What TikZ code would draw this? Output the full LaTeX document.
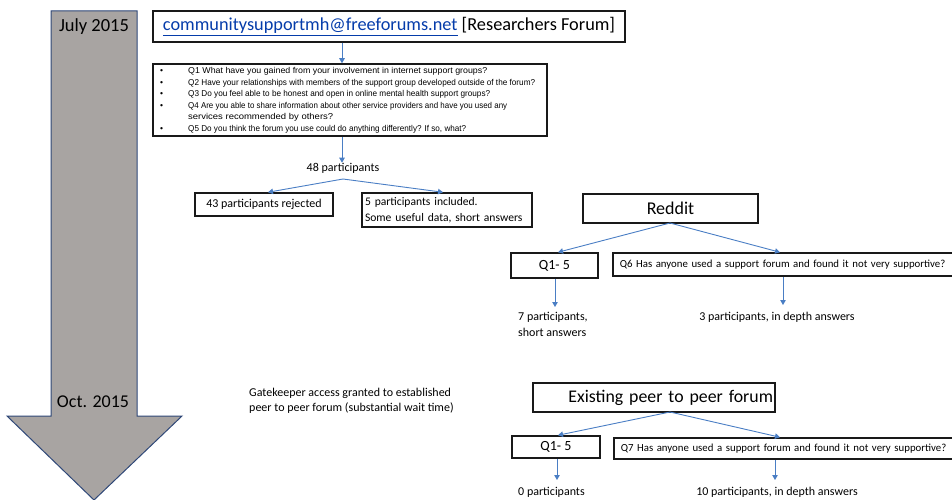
\documentclass[tikz,border=0pt]{standalone}
\usepackage{fontspec}
\usepackage{graphicx}
\setmainfont{Carlito}
\newfontfamily\arialf{Liberation Sans}
\usetikzlibrary{arrows.meta,calc}
\definecolor{arrfill}{RGB}{168,164,162}
\definecolor{arrline}{RGB}{47,72,120}
\definecolor{conncol}{RGB}{74,126,196}
\definecolor{linkcol}{RGB}{5,60,170}
\newcommand{\fsz}[2]{\fontsize{#1}{#2}\selectfont}
\newcommand{\qln}[2]{\makebox[28pt][l]{\textbullet}\resizebox{#1pt}{\height}{#2}}
\begin{document}
\begin{tikzpicture}[x=1pt,y=-1pt,
  box/.style={draw=black!90,line width=1.5pt,inner sep=0pt},
  conn/.style={draw=conncol,line width=0.9pt,-{Triangle[length=5pt,width=5.5pt]}},
  lbl/.style={inner sep=0pt,font=\fsz{12}{15.5}},
]
\useasboundingbox (0,0) rectangle (952,500);
\clip (0,0) rectangle (952,500);
% timeline arrow
\draw[fill=arrfill,draw=arrline,line width=1pt]
  (51,11) -- (137,11) -- (137,416) -- (182,416) -- (94,500) -- (7,416) -- (51,416) -- cycle;
\node[inner sep=0pt,font=\fsz{18.5}{22}] (jul) at (94,27) {July 2015};
\node[inner sep=0pt,font=\fsz{18}{22}] (oct) at (93,402) {Oct. 2015};
% researchers forum
\node[box,minimum width=472pt,minimum height=31pt,font=\fsz{18.3}{21}] (top) at (389,26.5)
  {\textcolor{linkcol}{\underline{communitysupportmh@freeforums.net}} [Researchers Forum]};
\node[box,minimum width=394pt,minimum height=72pt] (qbox) at (350,100) {};
\node[inner sep=0pt,anchor=north west,align=left,font=\arialf\fsz{8.5}{11.5}] (qtext) at (160,67.5)
  {\qln{299}{Q1 What have you gained from your involvement in internet support groups?}\\
   \qln{347}{Q2 Have your relationships with members of the support group developed outside of the forum?}\\
   \qln{302}{Q3 Do you feel able to be honest and open in online mental health support groups?}\\
   \qln{319}{Q4 Are you able to share information about other service providers and have you used any}\\
   \hspace*{28pt}\resizebox{145pt}{\height}{services recommended by others?}\\
   \qln{278}{Q5 Do you think the forum you use could do anything differently? If so, what?}};
\node[lbl] (p48) at (343,168) {48 participants};
\node[box,lbl,minimum width=138pt,minimum height=23pt] (rej) at (264,204.5) {43 participants rejected};
\node[box,lbl,font=\fsz{11.6}{16},minimum width=170pt,minimum height=34pt,text width=164pt,align=left,inner xsep=3pt] (inc) at (447,210)
  {5 participants included.\\Some useful data, short answers};
% reddit
\node[box,minimum width=175pt,minimum height=29pt,font=\fsz{18}{21}] (reddit) at (670.5,208.5) {Reddit};
\node[box,minimum width=87pt,minimum height=25pt,font=\fsz{14}{16}] (qa) at (554.5,265.5) {Q1- 5};
\node[box,anchor=west,minimum width=348pt,minimum height=23pt,text width=334pt,inner xsep=7pt,align=left,font=\fsz{10.8}{13}] (q6) at (612,264.5)
  {Q6 Has anyone used a support forum and found it not very supportive?};
\node[lbl,anchor=north west,align=left] (p7) at (518,312) {7 participants,\\short answers};
\node[lbl] (p3) at (777,317) {3 participants, in depth answers};
% gatekeeper
\node[lbl,anchor=west,align=left] (gate) at (249,401)
  {Gatekeeper access granted to established\\peer to peer forum (substantial wait time)};
% existing peer forum
\node[box,minimum width=242pt,minimum height=29pt,text width=238pt,align=right,inner xsep=2pt,font=\fsz{17.8}{21}] (peer) at (654,397.5) {Existing peer to peer forum};
\node[box,minimum width=88pt,minimum height=22pt,font=\fsz{14}{16}] (qb) at (556,447) {Q1- 5};
\node[box,anchor=west,minimum width=348pt,minimum height=21pt,text width=334pt,inner xsep=7pt,align=left,font=\fsz{10.8}{13}] (q7) at (613,448.5)
  {Q7 Has anyone used a support forum and found it not very supportive?};
\node[lbl,anchor=west] (p0) at (518,492) {0 participants};
\node[lbl] (p10) at (777,492) {10 participants, in depth answers};
% connector points
\coordinate (s48) at (343,179);
\coordinate (sred) at (670,223);
\coordinate (speer) at (670,412);
\coordinate (e7) at (555,307);
\coordinate (e3) at (783,305);
\coordinate (e0) at (557,480);
\coordinate (e10) at (775,480);
% connectors
\draw[conn] (top.south -| 342,0) -- (qbox.north -| 342,0);
\draw[conn] (qbox.south -| 342,0) -- (p48.north -| 342,0);
\draw[conn] (s48) -- (rej.north -| 268,0);
\draw[conn] (s48) -- (inc.north -| 443,0);
\draw[conn] (sred) -- (qa.north -| 558,0);
\draw[conn] (sred) -- (q6.north -| 780,0);
\draw[conn] (qa.south -| e7) -- (e7);
\draw[conn] (q6.south -| e3) -- (e3);
\draw[conn] (speer) -- (qb.north -| 558,0);
\draw[conn] (speer) -- (q7.north -| 780,0);
\draw[conn] (qb.south -| e0) -- (e0);
\draw[conn] (q7.south -| e10) -- (e10);
\end{tikzpicture}
\end{document}
